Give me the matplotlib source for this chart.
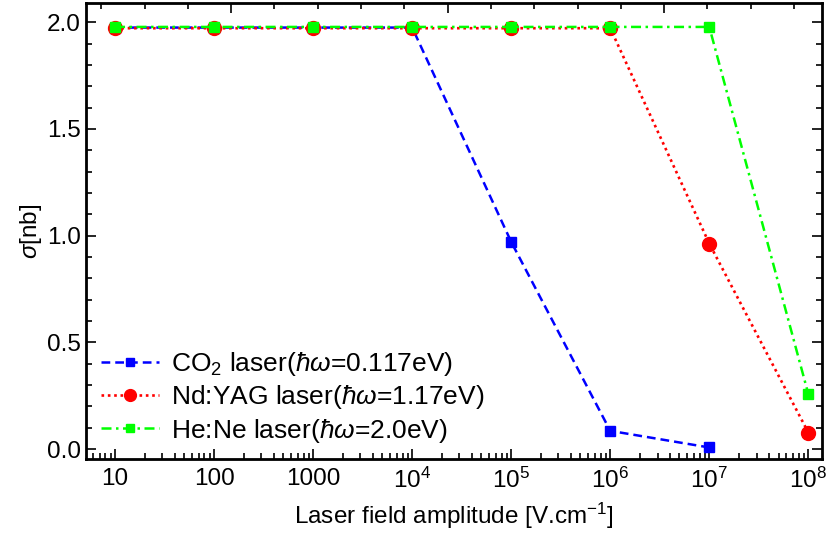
import numpy as np
import matplotlib
matplotlib.use("Agg")
import matplotlib.pyplot as plt
from matplotlib.ticker import MultipleLocator, LogLocator, FixedLocator, FixedFormatter, NullFormatter

plt.rcParams['font.family'] = ['Liberation Sans', 'DejaVu Sans']
plt.rcParams['mathtext.fontset'] = 'custom'
plt.rcParams['mathtext.rm'] = 'Liberation Sans'
plt.rcParams['mathtext.it'] = 'Liberation Sans:italic'
plt.rcParams['mathtext.bf'] = 'Liberation Sans:bold'

# field amplitudes (V/cm)
field = [1e1, 1e2, 1e3, 1e4, 1e5, 1e6, 1e7, 1e8]
xtick_labels = ["10", "100", "1000", r"$10^4$", r"$10^5$", r"$10^6$", r"$10^7$", r"$10^8$"]

# cross sections (nb)
sigma_co2 = [1.975, 1.975, 1.975, 1.975, 0.971, 0.086, 0.008]
sigma_ndyag = [1.972, 1.972, 1.972, 1.972, 1.972, 1.972, 0.963, 0.078]
sigma_hene = [1.978, 1.978, 1.978, 1.978, 1.978, 1.978, 1.978, 0.258]

fig = plt.figure(figsize=(8.28, 5.39), dpi=100)
ax = fig.add_axes([0.104, 0.148, 0.889, 0.846])

ax.plot(field[:len(sigma_co2)], sigma_co2, color="#0000ff", ls=(0, (3.5, 2)), lw=1.8,
        marker="s", ms=6.5, label=r"CO$_2$ laser($\hbar\omega$=0.117eV)")
ax.plot(field, sigma_ndyag, color="#ff0000", ls=(0, (1, 1.4)), lw=1.9,
        marker="o", ms=10, label=r"Nd:YAG laser($\hbar\omega$=1.17eV)")
ax.plot(field, sigma_hene, color="#00ff00", ls=(0, (4, 1.8, 1, 1.8)), lw=1.8,
        marker="s", ms=6.5, label=r"He:Ne laser($\hbar\omega$=2.0eV)")

ax.set_xscale("log")
ax.set_xlim(10**0.708, 10**8.14)
ax.set_ylim(-0.047, 2.089)

ax.xaxis.set_major_locator(FixedLocator(field))
ax.xaxis.set_major_formatter(FixedFormatter(xtick_labels))
ax.xaxis.set_minor_locator(LogLocator(base=10, subs=np.arange(2, 10), numticks=20))
ax.xaxis.set_minor_formatter(NullFormatter())
ax.yaxis.set_major_locator(MultipleLocator(0.5))
ax.yaxis.set_minor_locator(MultipleLocator(0.1))
ax.yaxis.set_major_formatter(plt.FuncFormatter(lambda v, p: f"{v:.1f}"))

ax.tick_params(which="both", direction="in", right=True, labelsize=17.5, width=1.2)
ax.tick_params(which="major", length=7)
ax.tick_params(which="minor", length=4)
ax.tick_params(axis="x", which="major", pad=6)
ax.tick_params(axis="y", which="major", pad=4)
for s in ax.spines.values():
    s.set_linewidth(2)

# top frame ticks (linear, unlabeled)
top = ax.twiny()
top.set_xlim(-0.67, 2.73)
top.xaxis.set_major_locator(MultipleLocator(1))
top.xaxis.set_minor_locator(MultipleLocator(0.2))
top.tick_params(which="both", direction="in", labeltop=False, width=1.2)
top.tick_params(which="major", length=7)
top.tick_params(which="minor", length=4)

ax.set_xlabel(r"Laser field amplitude [V.cm$^{-1}$]", fontsize=17.5, labelpad=6)
ax.set_ylabel(r"$\sigma$[nb]", fontsize=17.5, labelpad=2)

ax.legend(loc="lower left", bbox_to_anchor=(0.0, 0.0), frameon=False, fontsize=19,
          handlelength=2.2, handletextpad=0.45, numpoints=1, labelspacing=0.2,
          borderaxespad=0.15, borderpad=0.4, markerscale=0.85)

fig.savefig("out.png", dpi=100)
